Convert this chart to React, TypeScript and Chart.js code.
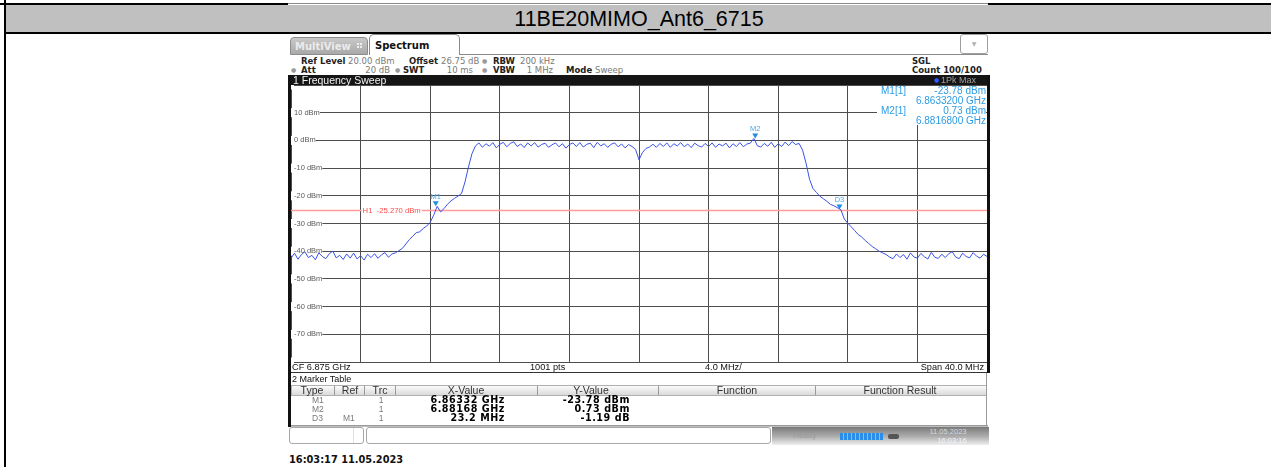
import React, { useEffect, useRef } from 'react';
import { Chart, registerables } from 'chart.js';

Chart.register(...registerables);

const PAGE_W = 1271;
const PAGE_H = 467;
const SANS = '"Liberation Sans", Arial, sans-serif';
const DEJA = '"DejaVu Sans", Verdana, sans-serif';

const TITLE = '11BE20MIMO_Ant6_6715';
const TIMESTAMP = '16:03:17  11.05.2023';

// sweep settings
const FREQ_START_MHZ = 6855;
const FREQ_STOP_MHZ = 6895;
const FREQ_STEP_MHZ = 0.2;
const FREQ_DIV_MHZ = 4;
const REF_LEVEL_DBM = 20;
const BOTTOM_LEVEL_DBM = -80;
const LEVEL_DIV_DB = 10;

// trace (1Pk Max), every 0.2 MHz from 6855 MHz
const traceDbm = [
  -42.6, -40.7, -42.9, -41.2, -40.2, -42.3, -41.5, -43.1, -40.6, -41.9,
  -42.7, -40.9, -40.0, -42.4, -41.5, -43.0, -41.0, -42.5, -40.7, -42.8,
  -41.6, -43.2, -41.1, -42.3, -40.9, -42.6, -41.3, -40.5, -42.2, -41.0,
  -40.6, -39.8, -39.0, -37.4, -35.8, -34.6, -33.3, -33.0, -31.8, -30.9,
  -29.6, -27.0, -23.8, -25.8, -24.6, -23.0, -21.8, -20.9, -20.1, -19.2,
  -15.0, -9.6, -4.8, -2.0, -0.9, -2.5, -1.2, -2.1, -0.8, -2.7,
  -1.4, -0.7, -2.3, -1.1, -0.5, -2.2, -1.3, -2.6, -0.9, -2.0,
  -0.8, -2.4, -1.5, -1.0, -2.5, -1.6, -0.9, -2.3, -1.2, -2.8,
  -1.5, -0.9, -2.2, -0.8, -2.4, -1.4, -1.0, -2.6, -0.7, -2.0,
  -1.2, -2.5, -1.4, -0.9, -2.3, -1.3, -2.7, -1.5, -2.2, -3.2,
  -7.0, -4.4, -2.9, -2.4, -1.4, -2.5, -1.1, -2.2, -0.9, -2.5,
  -1.2, -2.0, -0.8, -2.3, -1.3, -2.6, -1.0, -1.9, -2.4, -1.1,
  -2.2, -0.9, -2.5, -1.3, -2.0, -1.0, -2.7, -1.2, -2.2, -0.8,
  -2.3, -1.3, -1.0, 0.7, -1.9, -2.4, -1.1, -2.1, -0.7, -2.5,
  -1.2, -2.2, -0.6, -1.9, -0.4, -1.5, -1.1, -3.5, -8.2, -14.0,
  -17.4, -18.8, -20.2, -21.1, -22.0, -23.1, -23.6, -24.3, -25.0, -28.4,
  -29.9, -31.2, -32.6, -34.0, -34.9, -36.1, -37.2, -38.3, -39.1, -40.0,
  -40.6, -41.2, -42.1, -42.7, -41.0, -42.3, -41.2, -42.9, -40.6, -42.1,
  -42.5, -40.8, -42.0, -42.8, -40.4, -42.2, -42.6, -41.1, -42.3, -40.9,
  -40.2, -42.1, -42.7, -40.7, -41.9, -42.4, -40.5, -41.8, -42.5, -41.1,
  -41.9,
];

// markers
const markerNames = ['M1', 'M2', 'D3'];
const markerFreqMhz = [6863.32, 6881.68, 6886.52];
const markerLevelDbm = [-23.78, 0.73, -24.97];

// display line
const h1LevelDbm = -25.27;
const h1Label = 'H1  -25.270 dBm';

// marker info (top right of the diagram)
const infoLeft = ['M1[1]', '', 'M2[1]', ''];
const infoRight = ['-23.78 dBm', '6.8633200 GHz', '0.73 dBm', '6.8816800 GHz'];

// marker table
const tableType = ['M1', 'M2', 'D3'];
const tableRef = ['', '', 'M1'];
const tableTrc = ['1', '1', '1'];
const tableX = ['6.86332 GHz', '6.88168 GHz', '23.2 MHz'];
const tableY = ['-23.78 dBm', '0.73 dBm', '-1.19 dB'];
const tableHeads = ['Type', 'Ref', 'Trc', 'X-Value', 'Y-Value', 'Function', 'Function Result'];

type TP = {
  x: number; cy: number; size: number; text: string; color?: string; bold?: boolean;
  align?: 'left' | 'right' | 'center'; family?: string; ls?: number;
};
function Txt({ x, cy, size, text, color = '#000', bold = false, align = 'left', family = SANS, ls = 0 }: TP) {
  const lh = Math.round(size * 1.25);
  const s: React.CSSProperties = {
    position: 'absolute', top: cy - lh / 2, height: lh, lineHeight: lh + 'px', fontSize: size,
    fontFamily: family, fontWeight: bold ? 700 : 400, color, whiteSpace: 'nowrap', letterSpacing: ls,
  };
  if (align === 'left') s.left = x;
  else if (align === 'right') s.right = PAGE_W - x;
  else { s.left = x - 300; s.width = 600; s.textAlign = 'center'; }
  return <div style={s}>{text}</div>;
}

function Box({ l, t, w, h, style }: { l: number; t: number; w: number; h: number; style?: React.CSSProperties }) {
  return <div style={{ position: 'absolute', left: l, top: t, width: w, height: h, boxSizing: 'border-box', ...style }} />;
}

const overlayPlugin = {
  id: 'overlay',
  beforeDatasetsDraw(chart: any) {
    const { ctx, chartArea: a, scales } = chart;
    const py = Math.round(scales.y.getPixelForValue(h1LevelDbm)) + 0.5;
    ctx.save();
    ctx.strokeStyle = '#ff9a9a';
    ctx.lineWidth = 1.4;
    ctx.beginPath();
    ctx.moveTo(a.left, py);
    ctx.lineTo(a.right, py);
    ctx.stroke();
    ctx.font = '7.7px ' + SANS;
    const lx = scales.x.getPixelForValue(FREQ_START_MHZ + FREQ_DIV_MHZ) + 1;
    const w = ctx.measureText(h1Label).width;
    ctx.fillStyle = '#ffffff';
    ctx.fillRect(lx, py - 4, w + 2, 8);
    ctx.fillStyle = '#ff4a4a';
    ctx.textBaseline = 'middle';
    ctx.fillText(h1Label, lx + 1, py + 0.5);
    ctx.restore();
  },
  afterDatasetsDraw(chart: any) {
    const { ctx, scales } = chart;
    ctx.save();
    markerNames.forEach((name, i) => {
      const px = scales.x.getPixelForValue(markerFreqMhz[i]);
      const py = scales.y.getPixelForValue(markerLevelDbm[i]);
      ctx.fillStyle = '#1f8fe0';
      ctx.beginPath();
      ctx.moveTo(px - 3, py - 5);
      ctx.lineTo(px + 3, py - 5);
      ctx.lineTo(px, py);
      ctx.closePath();
      ctx.fill();
      ctx.font = '7.5px ' + SANS;
      ctx.fillStyle = '#4aa8e8';
      ctx.textAlign = 'center';
      ctx.textBaseline = 'bottom';
      ctx.fillText(name, px, py - 5.5);
    });
    ctx.restore();
  },
};

function SpectrumChart() {
  const ref = useRef<HTMLCanvasElement>(null);
  useEffect(() => {
    const points = traceDbm.map((v, i) => ({ x: FREQ_START_MHZ + i * FREQ_STEP_MHZ, y: v }));
    const chart = new Chart(ref.current as HTMLCanvasElement, {
      type: 'line',
      data: {
        datasets: [
          {
            data: points,
            borderColor: '#3a52e6',
            borderWidth: 1,
            pointRadius: 0,
            tension: 0,
            fill: false,
          },
        ],
      },
      options: {
        animation: false,
        responsive: false,
        maintainAspectRatio: false,
        parsing: false,
        layout: { padding: { left: 2, right: 2, top: 2, bottom: 2 } },
        plugins: { legend: { display: false }, tooltip: { enabled: false } },
        scales: {
          x: {
            type: 'linear',
            min: FREQ_START_MHZ,
            max: FREQ_STOP_MHZ,
            ticks: { stepSize: FREQ_DIV_MHZ, display: false },
            grid: { color: '#4d4d4d', lineWidth: 1, drawTicks: false },
            border: { display: false },
            afterFit: (s: any) => { s.height = 0; s.paddingLeft = 0; s.paddingRight = 0; },
          },
          y: {
            type: 'linear',
            min: BOTTOM_LEVEL_DBM,
            max: REF_LEVEL_DBM,
            ticks: {
              stepSize: LEVEL_DIV_DB,
              mirror: true,
              padding: 3,
              color: '#5a5a5a',
              font: { family: SANS, size: 7.5 },
              showLabelBackdrop: true,
              backdropColor: '#ffffff',
              backdropPadding: { left: 3, right: 0, top: 0, bottom: 0 },
              callback: (v: any) => (v === REF_LEVEL_DBM || v === BOTTOM_LEVEL_DBM ? '' : `${v} dBm`),
            },
            grid: { color: '#4d4d4d', lineWidth: 1, drawTicks: false },
            border: { display: false },
            afterFit: (s: any) => { s.width = 0; s.paddingTop = 0; s.paddingBottom = 0; },
          },
        },
      } as any,
      plugins: [overlayPlugin],
    });
    return () => chart.destroy();
  }, []);
  return (
    <canvas
      ref={ref}
      width={700}
      height={281}
      style={{ position: 'absolute', left: 289, top: 83, width: 700, height: 281 }}
    />
  );
}

export default function App() {
  const sepX = [334, 364, 395, 537, 658, 815];
  const headCx = [312, 350, 380, 466, 591, 737, 900];
  const rowCy = [400, 409, 418];
  return (
    <div
      style={{
        position: 'fixed', left: 0, top: 0, width: PAGE_W, height: PAGE_H, background: '#fff',
        overflow: 'hidden', fontFamily: SANS,
      }}
    >
      {/* report table frame */}
      <Box l={0} t={3} w={288} h={2} style={{ background: '#000' }} />
      <Box l={288} t={3} w={700} h={1} style={{ background: '#8a8a8a' }} />
      <Box l={988} t={3} w={283} h={2} style={{ background: '#000' }} />
      <Box l={6} t={5} w={1265} h={27} style={{ background: '#c0c0c0' }} />
      <Box l={4} t={32} w={1267} h={2} style={{ background: '#000' }} />
      <Box l={4} t={0} w={2} h={467} style={{ background: '#000' }} />
      <Txt x={639} cy={19} size={21.5} text={TITLE} align="center" />

      {/* tabs */}
      <Box l={290} t={37} w={78} h={18} style={{ background: 'linear-gradient(#c9c9c9, #a9a9a9)', border: '1px solid #8c8c8c', borderRadius: '4px 4px 0 0' }} />
      <Txt x={295} cy={46} size={10} text="MultiView" bold family={DEJA} color="#ebebeb" />
      <Box l={357} t={43} w={2} h={2} style={{ background: '#eee' }} />
      <Box l={360} t={43} w={2} h={2} style={{ background: '#eee' }} />
      <Box l={357} t={46} w={2} h={2} style={{ background: '#eee' }} />
      <Box l={360} t={46} w={2} h={2} style={{ background: '#eee' }} />
      <Box l={369} t={34} w={91} h={21} style={{ background: '#fff', border: '1px solid #8a8a8a', borderBottom: 'none', borderRadius: '5px 5px 0 0' }} />
      <Txt x={375} cy={45} size={10} text="Spectrum" bold family={DEJA} color="#111" />
      <Box l={460} t={54} w={528} h={1} style={{ background: '#8a8a8a' }} />
      <Box l={960} t={34} w={28} h={20} style={{ background: '#fff', border: '1px solid #a0a0a0', borderRadius: 3 }} />
      <Txt x={974} cy={44} size={6} text="▼" align="center" color="#b0b0b0" family={DEJA} />

      {/* setting rows */}
      <Txt x={301} cy={61} size={8.5} text="Ref Level" bold family={DEJA} color="#222" />
      <Txt x={348} cy={61} size={8.5} text="20.00 dBm" family={DEJA} color="#7a7a7a" />
      <Txt x={409} cy={61} size={8.5} text="Offset" bold family={DEJA} color="#222" />
      <Txt x={441} cy={61} size={8.5} text="26.75 dB" family={DEJA} color="#7a7a7a" />
      <Txt x={482} cy={61} size={6} text="●" family={DEJA} color="#9a9a9a" />
      <Txt x={493} cy={61} size={8.5} text="RBW" bold family={DEJA} color="#222" />
      <Txt x={520} cy={61} size={8.5} text="200 kHz" family={DEJA} color="#7a7a7a" />
      <Txt x={291} cy={70} size={6} text="●" family={DEJA} color="#9a9a9a" />
      <Txt x={301} cy={70} size={8.5} text="Att" bold family={DEJA} color="#222" />
      <Txt x={390} cy={70} size={8.5} text="20 dB" align="right" family={DEJA} color="#7a7a7a" />
      <Txt x={395} cy={70} size={6} text="●" family={DEJA} color="#9a9a9a" />
      <Txt x={403} cy={70} size={8.5} text="SWT" bold family={DEJA} color="#222" />
      <Txt x={473} cy={70} size={8.5} text="10 ms" align="right" family={DEJA} color="#7a7a7a" />
      <Txt x={482} cy={70} size={6} text="●" family={DEJA} color="#9a9a9a" />
      <Txt x={493} cy={70} size={8.5} text="VBW" bold family={DEJA} color="#222" />
      <Txt x={553} cy={70} size={8.5} text="1 MHz" align="right" family={DEJA} color="#7a7a7a" />
      <Txt x={566} cy={70} size={8.5} text="Mode" bold family={DEJA} color="#222" />
      <Txt x={595} cy={70} size={8.5} text="Sweep" family={DEJA} color="#7a7a7a" />
      <Txt x={912} cy={61} size={8.5} text="SGL" bold family={DEJA} color="#222" />
      <Txt x={912} cy={70} size={8.5} text="Count 100/100" bold family={DEJA} color="#222" />

      {/* diagram */}
      <SpectrumChart />
      <Box l={288} t={75} w={702} h={10} style={{ background: '#151515' }} />
      <Txt x={293} cy={80} size={10.5} text="1 Frequency Sweep" color="#f2f2f2" />
      <Txt x={934} cy={80} size={6} text="●" family={DEJA} color="#2a5bff" />
      <Txt x={941} cy={80} size={9} text="1Pk Max" color="#a0a0a0" />
      <Box l={877} t={86} w={109} h={39} style={{ background: '#fff' }} />
      {infoLeft.map((t, i) => (
        <Txt key={'il' + i} x={881} cy={90.7 + i * 10} size={10} text={t} color="#2e9ce2" />
      ))}
      {infoRight.map((t, i) => (
        <Txt key={'ir' + i} x={986} cy={90.7 + i * 10} size={10} text={t} color="#2e9ce2" align="right" />
      ))}

      {/* diagram footer */}
      <Box l={289} t={362.5} w={699} h={10} style={{ background: '#fff' }} />
      <Txt x={292} cy={367} size={9.2} text="CF 6.875 GHz" color="#111" />
      <Txt x={530} cy={367} size={9.2} text="1001 pts" color="#111" />
      <Txt x={705} cy={367} size={9.2} text="4.0 MHz/" color="#111" />
      <Txt x={984} cy={367} size={9.2} text="Span 40.0 MHz" color="#111" align="right" />
      <Box l={289} t={372} w={699} h={1} style={{ background: '#333' }} />

      {/* marker table */}
      <Txt x={292} cy={379} size={9} text="2 Marker Table" color="#111" />
      <Box l={291} t={385} w={696} h={11} style={{ background: 'linear-gradient(#fbfbfb, #dadada)', border: '1px solid #b0b0b0' }} />
      {sepX.map((x, i) => (
        <Box key={'s' + i} l={x} t={386} w={1} h={9} style={{ background: '#9a9a9a' }} />
      ))}
      {tableHeads.map((t, i) => (
        <Txt key={'h' + i} x={headCx[i]} cy={390.5} size={10.5} text={t} color="#333" align="center" />
      ))}
      {tableType.map((t, i) => (
        <Txt key={'ty' + i} x={312} cy={rowCy[i]} size={8.5} text={t} color="#7a7a7a" />
      ))}
      {tableRef.map((t, i) => (
        <Txt key={'rf' + i} x={343} cy={rowCy[i]} size={8.5} text={t} color="#7a7a7a" />
      ))}
      {tableTrc.map((t, i) => (
        <Txt key={'tr' + i} x={381} cy={rowCy[i]} size={8.5} text={t} color="#7a7a7a" align="center" />
      ))}
      {tableX.map((t, i) => (
        <Txt key={'tx' + i} x={505} cy={rowCy[i]} size={9.6} text={t} bold family={DEJA} ls={0.55} align="right" />
      ))}
      {tableY.map((t, i) => (
        <Txt key={'tyv' + i} x={630} cy={rowCy[i]} size={9.6} text={t} bold family={DEJA} ls={0.55} align="right" />
      ))}
      <Box l={289} t={425} w={699} h={2} style={{ background: 'linear-gradient(#8a8a8a, #cfcfcf)' }} />
      <Box l={986} t={373} w={1} h={52} style={{ background: '#9a9a9a' }} />

      {/* frame of the instrument screen */}
      <Box l={288} t={75} w={3} h={352} style={{ background: '#111' }} />
      <Box l={987} t={75} w={3} h={298} style={{ background: '#111' }} />

      {/* status bar */}
      <Box l={289} t={427} w={75} h={17} style={{ background: '#fff', border: '1px solid #a8a8a8', borderRadius: 3 }} />
      <Box l={353} t={428} w={1} h={15} style={{ background: '#e0e0e0' }} />
      <Box l={366} t={427} w={405} h={17} style={{ background: '#fff', border: '1px solid #a8a8a8', borderRadius: 3 }} />
      <Box l={772} t={427} w={217} h={18} style={{ background: 'linear-gradient(#7a7a7a, #b0b0b0 55%, #efefef)' }} />
      <Txt x={793} cy={436} size={8} text="Ready" color="#9c9c9c" />
      <Box l={840} t={433} w={43} h={7} style={{ background: 'repeating-linear-gradient(90deg, #2a8ee8 0px, #2a8ee8 3px, #7fc0f5 3px, #7fc0f5 4px)' }} />
      <Box l={888} t={434} w={11} h={5} style={{ background: '#555', borderRadius: 2 }} />
      <Txt x={948} cy={431} size={7.5} text="11.05.2023" color="#d8d8d8" align="center" />
      <Txt x={952} cy={440} size={7.5} text="16:03:16" color="#f4f4f4" align="center" />

      {/* capture time */}
      <Txt x={289} cy={460} size={9.8} text={TIMESTAMP} bold family={DEJA} color="#111" />
    </div>
  );
}
